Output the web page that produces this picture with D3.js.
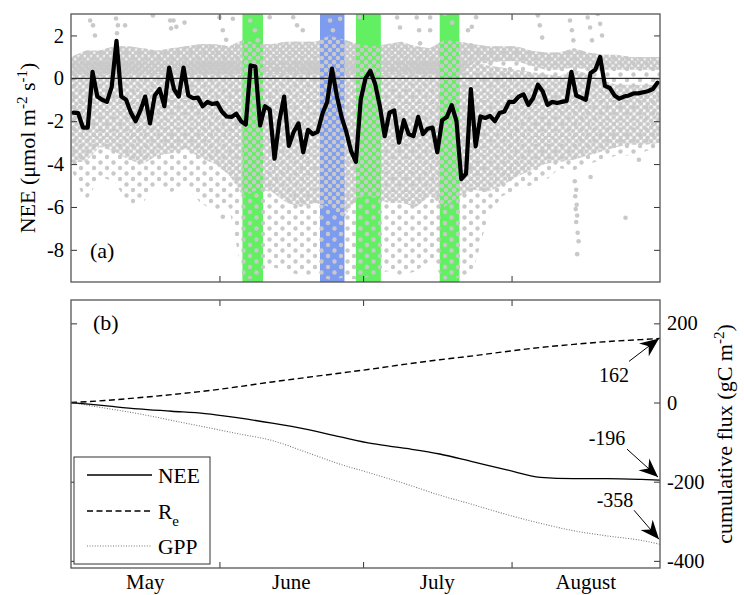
<!DOCTYPE html>
<html>
<head>
<meta charset="utf-8">
<title>NEE and cumulative fluxes</title>
<script src="https://cdn.jsdelivr.net/npm/d3@7/dist/d3.min.js"></script>
<style>
  html, body { margin: 0; padding: 0; background: #fff; }
  svg { display: block; }
</style>
</head>
<body>
<svg id="fig" width="744" height="595"></svg>
<script>
// ---------------- data (time in days since 1 May) ----------------
const months = ["May", "June", "July", "August"];
const monthStart = [0, 31, 61, 92, 123];
const neeTicks = [2, 0, -2, -4, -6, -8];
const cumTicks = [200, 0, -200, -400];

// daily mean NEE (umol m-2 s-1), 1 May .. 31 Aug
const dailyNEE = [
  -1.6, -1.62, -2.3, -2.3, 0.3, -0.85, -1.0, -1.1, -0.4, 1.75,
  -0.85, -1.0, -1.6, -2.0, -1.5, -0.85, -2.1, -0.8, -0.5, -1.3,
  0.5, -0.5, -0.85, 0.5, -0.8, -0.93, -0.9, -1.3, -1.1, -1.2,
  -1.15, -1.55, -1.78, -1.8, -1.65, -2.0, -2.16, 0.6, 0.55, -2.2,
  -1.3, -1.45, -3.75, -2.0, -0.85, -3.15, -2.5, -2.1, -3.45, -2.4,
  -2.6, -2.5, -1.65, -1.1, 0.45, -0.8, -1.8, -2.5, -3.4, -3.9,
  -1.0, 0.0, 0.35, -0.25, -1.3, -2.7, -1.6, -1.5, -3.0, -1.95,
  -2.6, -2.7, -1.8, -2.6, -2.35, -2.3, -3.45, -1.95, -1.8, -1.25,
  -2.0, -4.7, -4.45, -0.5, -3.17, -1.78, -1.85, -1.75, -2.0, -1.62,
  -1.55, -1.1, -1.1, -0.85, -0.75, -1.24, -0.93, -0.3, -0.6, -1.24,
  -1.1, -1.15, -1.1, -1.05, 0.3, -0.8, -0.9, -1.0, 0.25, 0.4,
  1.0, -0.35, -0.45, -0.8, -0.95, -0.85, -0.8, -0.7, -0.7, -0.65,
  -0.6, -0.5, -0.2
];

// highlighted periods
const periodStart = [35.8, 52.0, 59.5, 77.0];
const periodEnd   = [40.1, 57.1, 64.7, 81.1];
const periodKind  = ["A", "B", "A", "A"];

// extent of the half-hourly NEE cloud, sampled every 3 days
const cloudDay = [0, 3, 6, 9, 12, 15, 18, 21, 24, 27, 30, 33, 36, 39, 42, 45, 48, 51, 54, 57,
  60, 63, 66, 69, 72, 75, 78, 81, 84, 87, 90, 93, 96, 99, 102, 105, 108, 111, 114, 117, 120, 123];
const nightHi = [1.0, 1.3, 1.3, 1.5, 1.5, 1.4, 1.3, 1.4, 1.5, 1.6, 1.6, 1.5, 1.8, 1.6, 1.6, 1.7, 1.7, 1.7, 2.0, 1.8,
  1.6, 1.5, 1.6, 1.7, 1.5, 1.4, 1.8, 1.7, 1.6, 1.5, 1.5, 1.5, 1.3, 1.2, 1.2, 1.4, 1.2, 1.1, 1.1, 1.0, 1.0, 1.0];
const nightLo = [0.2, 0.2, 0.2, 0.2, 0.2, 0.2, 0.2, 0.2, 0.2, 0.2, 0.2, 0.2, 0.2, 0.2, 0.2, 0.2, 0.2, 0.2, 0.2, 0.2,
  0.2, 0.2, 0.2, 0.2, 0.2, 0.2, 0.2, 0.2, 0.7, 0.7, 0.8, 0.8, 0.6, 0.4, 0.4, 0.5, 0.4, 0.4, 0.4, 0.4, 0.4, 0.4];
const dayHi = [0.8, 0.8, 0.8, 0.8, 0.8, 0.8, 0.8, 0.8, 0.8, 0.8, 0.8, 0.8, 0.8, 0.8, 0.8, 0.8, 0.8, 0.8, 0.8, 0.8,
  0.8, 0.8, 0.8, 0.8, 0.8, 0.8, 0.8, 0.8, 0.8, 0.6, 0.5, 0.4, 0.3, 0.2, 0.1, 0.4, 0.2, -0.1, -0.3, -0.3, -0.3, -0.3];
const dayLo = [-3.9, -3.9, -3.2, -3.4, -3.8, -4.0, -3.6, -3.5, -3.3, -3.7, -4.0, -4.5, -5.5, -5.2, -5.3, -5.8, -6.0, -5.8, -6.0, -6.5,
  -5.5, -5.5, -5.8, -5.8, -6.0, -5.5, -6.0, -5.5, -5.2, -5.3, -5.0, -4.6, -4.3, -4.0, -3.9, -3.8, -3.6, -3.4, -3.2, -3.1, -3.1, -3.0];
const sparseLo = [-4.2, -5.8, -4.6, -4.8, -5.9, -5.8, -5.0, -5.3, -5.0, -5.8, -6.2, -6.0, -9.4, -9.3, -8.8, -9.0, -9.2, -9.2, -9.4, -9.3,
  -9.4, -9.2, -9.0, -9.2, -9.0, -8.5, -9.4, -9.3, -9.0, -6.5, -5.5, -5.2, -5.0, -4.8, -4.2, -4.3, -4.0, -3.8, -3.6, -3.6, -3.4, -3.2];

// isolated half-hourly values outside the main cloud [day, NEE]
const loosePoints = [
  [4.0, 2.7], [4.6, 2.47], [5.0, 2.0], [9.4, 2.79], [9.8, 2.47], [9.6, 2.1], [11.3, 2.47], [17.1, 2.93],
  [20.7, 2.7], [20.9, 2.33], [21.4, 2.7], [22.0, 2.4], [23.7, 2.6], [31.0, 2.85], [31.7, 2.24], [32.4, 1.8],
  [33.8, 2.78], [37.4, 2.7], [38.4, 2.24], [39.0, 1.77], [41.5, 2.85], [46.4, 2.85], [47.2, 2.47], [48.4, 2.24],
  [54.1, 2.7], [54.7, 2.24], [56.2, 2.78], [60.3, 2.85], [68.1, 2.84], [68.7, 2.37], [72.2, 2.84], [72.7, 2.24],
  [72.9, 1.63], [75.0, 2.84], [75.0, 2.24], [78.1, 3.0], [79.6, 2.6], [82.9, 2.24], [83.5, 1.54], [84.6, 2.85],
  [83.7, 2.4], [97.5, 2.93], [97.9, 2.47], [98.4, 1.9], [104.2, 2.7], [104.6, 2.24], [104.9, 1.77], [107.9, 2.84],
  [108.4, 2.37], [108.8, 1.77], [110.0, 3.0], [110.5, 2.54], [110.9, 2.0],
  [31.7, -6.46], [105.2, -4.8], [105.5, -5.2], [105.3, -5.5], [105.6, -5.9], [105.4, -6.1], [105.7, -6.4],
  [105.5, -6.7], [105.8, -7.2], [106.0, -7.6], [105.7, -8.2], [115.8, -6.5], [108.5, -4.6], [118.6, -3.8]
];

// cumulative fluxes (gC m-2)
const cumDay = [0, 7, 14, 21, 28, 35, 42, 49, 56, 63, 70, 77, 84, 91, 98, 105, 112, 119, 123];
const cumNEE = [0, -8, -16, -22, -28, -39, -52, -67, -86, -104, -116, -130, -150, -170, -189, -192, -192, -194, -196];
const cumRe  = [0, 5, 12, 20, 29, 40, 52, 63, 74, 85, 97, 108, 118, 129, 139, 147, 154, 159, 162];
const cumGPP = [0, -14, -28, -45, -62, -79, -96, -125, -155, -180, -206, -234, -258, -283, -305, -324, -337, -348, -358];

// ---------------- layout ----------------
const L = 71, R = 660;
const A = { top: 14, bottom: 282 };
const B = { top: 300, bottom: 568 };
const SERIF = '"Liberation Serif", "Times New Roman", Times, serif';
const ptColor = "#c9c9c9";
const kindColor = { A: "#62f062", B: "#7d9cf0" };

const x = d3.scaleLinear().domain([0, 123]).range([L, R]);
const yA = d3.scaleLinear().domain([-9.5, 3]).range([A.bottom, A.top]);
const yB = d3.scaleLinear().domain([-418, 259]).range([B.bottom, B.top]);

const svg = d3.select("#fig");
svg.append("rect").attr("width", 744).attr("height", 595).attr("fill", "#fff");
const defs = svg.append("defs");

defs.append("clipPath").attr("id", "clipA").append("rect")
  .attr("x", L).attr("y", A.top).attr("width", R - L).attr("height", A.bottom - A.top);
defs.append("clipPath").attr("id", "clipB").append("rect")
  .attr("x", L).attr("y", B.top).attr("width", R - L).attr("height", B.bottom - B.top);

const periods = periodStart.map((s, i) => ({ s, e: periodEnd[i], k: periodKind[i] }));
defs.append("clipPath").attr("id", "clipPeriods")
  .selectAll("rect").data(periods).join("rect")
  .attr("x", d => x(d.s)).attr("width", d => x(d.e) - x(d.s))
  .attr("y", A.top).attr("height", A.bottom - A.top);

// dot textures standing in for the dense and the scattered half-hourly values
function dotPattern(id, w, h, dots, r) {
  const p = defs.append("pattern").attr("id", id)
    .attr("patternUnits", "userSpaceOnUse").attr("width", w).attr("height", h);
  dots.forEach(([cx, cy]) => {
    for (const ox of [-w, 0, w]) for (const oy of [-h, 0, h]) {
      p.append("circle").attr("cx", cx + ox).attr("cy", cy + oy).attr("r", r).attr("fill", ptColor);
    }
  });
}
dotPattern("nightPts", 6.4, 6.4, [[1.6, 1.6], [4.8, 4.8]], 2.3);
dotPattern("densePts", 6.8, 6.8, [[1.7, 1.7], [5.1, 5.1]], 2.25);
dotPattern("mediumPts", 8, 8, [[2, 2], [6, 6]], 2.2);
dotPattern("sparsePts", 13, 11, [[3, 3], [9.5, 8.5]], 2.2);

// ---------------- panel (a) ----------------
const gA = svg.append("g").attr("clip-path", "url(#clipA)");

const cloud = cloudDay.map((t, i) => ({
  t, nh: nightHi[i], nl: nightLo[i], dh: dayHi[i], dl: dayLo[i], sl: sparseLo[i]
}));
const ax = d => x(d.t);
const fullCloud = d3.area().x(ax).y0(d => yA(d.sl)).y1(d => yA(d.nh));
const coreDay = d3.area().x(ax).y0(d => yA(d.dl)).y1(d => yA(d.dh));
const coreNight = d3.area().x(ax).y0(d => yA(d.nl)).y1(d => yA(d.nh));
const outerDay = d3.area().x(ax).y0(d => yA(d.sl)).y1(d => yA(d.dl));

gA.append("path").datum(cloud).attr("d", fullCloud).attr("fill", "url(#sparsePts)");
gA.append("path").datum(cloud).attr("d", coreDay).attr("fill", "url(#densePts)");
gA.append("path").datum(cloud).attr("d", coreNight).attr("fill", "url(#nightPts)");

// shaded periods sit over the cloud, with their own (thinner) set of values on top
gA.selectAll("rect.period").data(periods).join("rect")
  .attr("class", "period")
  .attr("x", d => x(d.s)).attr("width", d => x(d.e) - x(d.s))
  .attr("y", A.top).attr("height", A.bottom - A.top)
  .attr("fill", d => kindColor[d.k]);
const gP = gA.append("g").attr("clip-path", "url(#clipPeriods)");
gP.append("path").datum(cloud).attr("d", outerDay).attr("fill", "url(#sparsePts)");
gP.append("path").datum(cloud).attr("d", coreDay).attr("fill", "url(#mediumPts)");
gP.append("path").datum(cloud).attr("d", coreNight).attr("fill", "url(#mediumPts)");

gA.selectAll("circle.loose").data(loosePoints).join("circle")
  .attr("class", "loose")
  .attr("cx", d => x(d[0])).attr("cy", d => yA(d[1])).attr("r", 2.3).attr("fill", ptColor);

gA.append("line").attr("x1", L).attr("x2", R).attr("y1", yA(0)).attr("y2", yA(0))
  .attr("stroke", "#000").attr("stroke-width", 1);

gA.append("path").datum(dailyNEE)
  .attr("d", d3.line().x((d, i) => x(i + 0.5)).y(d => yA(d)))
  .attr("fill", "none").attr("stroke", "#000").attr("stroke-width", 4.2)
  .attr("stroke-linejoin", "round").attr("stroke-linecap", "round");

// ---------------- panel (b) ----------------
const gB = svg.append("g").attr("clip-path", "url(#clipB)");
const cumLine = d3.line().x((d, i) => x(cumDay[i])).y(d => yB(d)).curve(d3.curveMonotoneX);
gB.append("path").datum(cumGPP).attr("d", cumLine)
  .attr("fill", "none").attr("stroke", "#777").attr("stroke-width", 1.1).attr("stroke-dasharray", "1,1.6");
gB.append("path").datum(cumRe).attr("d", cumLine)
  .attr("fill", "none").attr("stroke", "#000").attr("stroke-width", 1.4).attr("stroke-dasharray", "6,3.5");
gB.append("path").datum(cumNEE).attr("d", cumLine)
  .attr("fill", "none").attr("stroke", "#000").attr("stroke-width", 1.3);

// ---------------- axes and frames ----------------
function styleAxis(g, size) {
  g.select(".domain").remove();
  g.selectAll("line").attr("stroke", "#333").attr("stroke-width", 1);
  g.selectAll("text").attr("font-family", SERIF).attr("font-size", size).attr("fill", "#000");
}
const monthTicks = monthStart.slice(1, 4);
const fmt = d => String(d);

function frame(panel, yScale, ticks, labelSide) {
  svg.append("g").attr("transform", `translate(${L},0)`)
    .call(d3.axisLeft(yScale).tickValues(ticks).tickSize(-6).tickPadding(7)
      .tickFormat(labelSide === "left" ? fmt : ""))
    .call(g => styleAxis(g, 20.5));
  svg.append("g").attr("transform", `translate(${R},0)`)
    .call(d3.axisRight(yScale).tickValues(ticks).tickSize(-6).tickPadding(7)
      .tickFormat(labelSide === "right" ? fmt : ""))
    .call(g => styleAxis(g, 20.5));
  svg.append("g").attr("transform", `translate(0,${panel.top})`)
    .call(d3.axisTop(x).tickValues(monthTicks).tickSize(-6).tickFormat(""))
    .call(g => styleAxis(g, 20));
  svg.append("g").attr("transform", `translate(0,${panel.bottom})`)
    .call(d3.axisBottom(x).tickValues(monthTicks).tickSize(-6).tickFormat(""))
    .call(g => styleAxis(g, 20));
  svg.append("rect").attr("x", L).attr("y", panel.top)
    .attr("width", R - L).attr("height", panel.bottom - panel.top)
    .attr("fill", "none").attr("stroke", "#555").attr("stroke-width", 1.3);
}
frame(A, yA, neeTicks, "left");
frame(B, yB, cumTicks, "right");

// month names centred on each month
svg.selectAll("text.month").data(months).join("text")
  .attr("class", "month")
  .attr("x", (d, i) => x((monthStart[i] + monthStart[i + 1]) / 2))
  .attr("y", 589)
  .attr("text-anchor", "middle")
  .attr("font-family", SERIF).attr("font-size", 21)
  .text(d => d);

// axis titles
const yTitleA = svg.append("text")
  .attr("transform", "translate(35,148) rotate(-90)")
  .attr("text-anchor", "middle").attr("font-family", SERIF).attr("font-size", 22);
yTitleA.append("tspan").text("NEE (\u03bcmol m");
yTitleA.append("tspan").attr("dy", -8).attr("font-size", 15).text("-2");
yTitleA.append("tspan").attr("dy", 8).text(" s");
yTitleA.append("tspan").attr("dy", -8).attr("font-size", 15).text("-1");
yTitleA.append("tspan").attr("dy", 8).text(")");

const yTitleB = svg.append("text")
  .attr("transform", "translate(732,434) rotate(-90)")
  .attr("text-anchor", "middle").attr("font-family", SERIF).attr("font-size", 22);
yTitleB.append("tspan").text("cumulative flux (gC m");
yTitleB.append("tspan").attr("dy", -8).attr("font-size", 15).text("-2");
yTitleB.append("tspan").attr("dy", 8).text(")");

// panel tags
svg.append("text").attr("x", 90).attr("y", 258).attr("font-family", SERIF).attr("font-size", 22).text("(a)");
svg.append("text").attr("x", 93).attr("y", 330).attr("font-family", SERIF).attr("font-size", 22).text("(b)");

// ---------------- legend ----------------
const lg = svg.append("g");
lg.append("rect").attr("x", 74).attr("y", 457).attr("width", 136).attr("height", 107)
  .attr("fill", "#fff").attr("stroke", "#333").attr("stroke-width", 1);
const legendRows = [
  { name: "NEE", y: 475, stroke: "#000", width: 1.3, dash: null },
  { name: "R", sub: "e", y: 511, stroke: "#000", width: 1.4, dash: "6,3.5" },
  { name: "GPP", y: 546, stroke: "#777", width: 1.1, dash: "1,1.6" }
];
legendRows.forEach(r => {
  lg.append("line").attr("x1", 87).attr("x2", 152).attr("y1", r.y).attr("y2", r.y)
    .attr("stroke", r.stroke).attr("stroke-width", r.width)
    .attr("stroke-dasharray", r.dash);
  const t = lg.append("text").attr("x", 158).attr("y", r.y + 8)
    .attr("font-family", SERIF).attr("font-size", 21.5).text(r.name);
  if (r.sub) t.append("tspan").attr("dy", 7).attr("font-size", 15).text(r.sub);
});

// ---------------- end-of-season annotations ----------------
function arrow(tip, tail) {
  svg.append("line").attr("x1", tail[0]).attr("y1", tail[1]).attr("x2", tip[0]).attr("y2", tip[1])
    .attr("stroke", "#000").attr("stroke-width", 1);
  const ang = Math.atan2(tip[1] - tail[1], tip[0] - tail[0]) * 180 / Math.PI;
  svg.append("path").attr("d", "M0,0 L-19,-8 L-13,0 L-19,8 Z")
    .attr("transform", `translate(${tip[0]},${tip[1]}) rotate(${ang})`)
    .attr("fill", "#000");
}
const endDay = cumDay[cumDay.length - 1];
const ends = [
  { v: cumRe[cumRe.length - 1], tip: [-1, 0], tail: [-30, 23], lab: [-45, 44] },
  { v: cumNEE[cumNEE.length - 1], tip: [-2, -3], tail: [-31, -28], lab: [-51, -32] },
  { v: cumGPP[cumGPP.length - 1], tip: [-1, -5], tail: [-25, -29], lab: [-44, -32] }
];
ends.forEach(e => {
  const tx = x(endDay) + e.tip[0], ty = yB(e.v) + e.tip[1];
  arrow([tx, ty], [tx + e.tail[0], ty + e.tail[1]]);
  svg.append("text").attr("x", tx + e.lab[0]).attr("y", ty + e.lab[1])
    .attr("text-anchor", "middle").attr("font-family", SERIF).attr("font-size", 20)
    .text(String(e.v));
});
</script>
</body>
</html>
